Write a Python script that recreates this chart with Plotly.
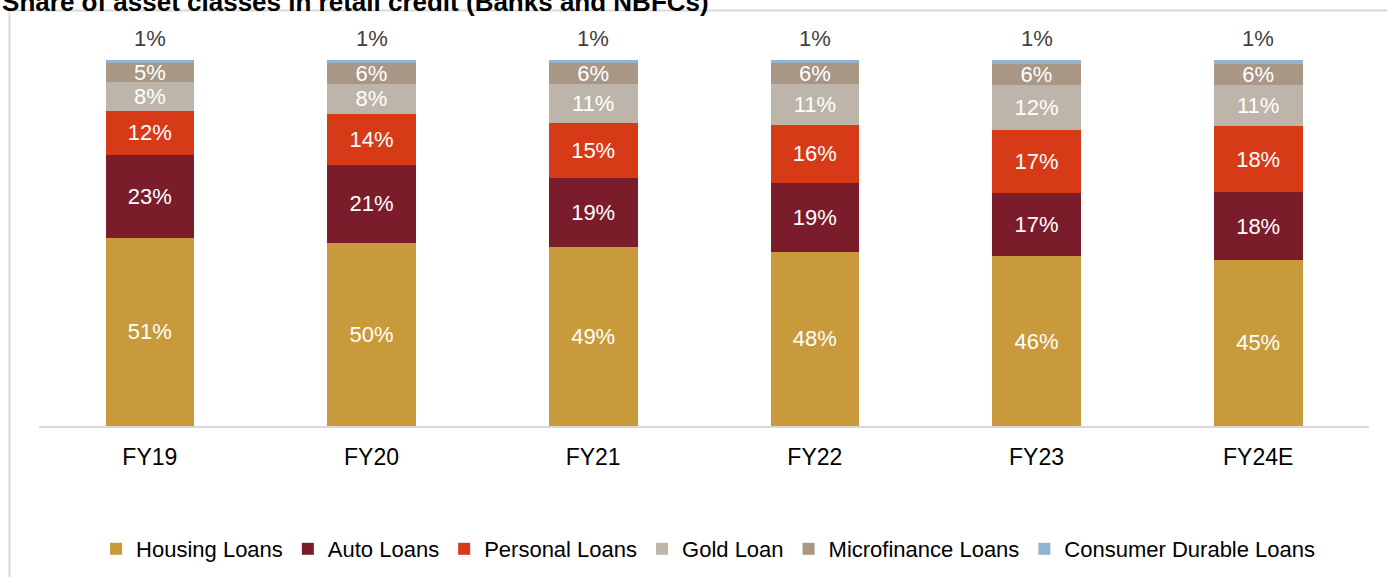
import plotly.graph_objects as go

categories = ["FY19", "FY20", "FY21", "FY22", "FY23", "FY24E"]
housing = [51.4, 50.0, 49.0, 47.6, 46.3, 45.4]
auto = [22.7, 21.3, 18.6, 18.7, 17.4, 18.4]
personal = [11.8, 13.9, 15.2, 16.0, 17.2, 18.0]
gold = [7.9, 8.2, 10.6, 11.1, 12.3, 11.2]
microfinance = [5.2, 5.6, 5.6, 5.6, 5.7, 5.8]
consumer = [1.0, 1.0, 1.0, 1.0, 1.0, 1.0]

series = [
    ("Housing Loans", housing, "#C99A3B"),
    ("Auto Loans", auto, "#7B1C2B"),
    ("Personal Loans", personal, "#D63A17"),
    ("Gold Loan", gold, "#BDB5A9"),
    ("Microfinance Loans", microfinance, "#A89785"),
    ("Consumer Durable Loans", consumer, "#93B3CF"),
]

FONT = "Liberation Sans, Arial, sans-serif"

fig = go.Figure()
for name, vals, color in series:
    is_top = name == "Consumer Durable Loans"
    fig.add_trace(go.Bar(
        name=name,
        x=categories,
        y=vals,
        marker=dict(color=color, line=dict(width=0)),
        texttemplate=None if is_top else "%{y:.0f}%",
        textposition="none" if is_top else "inside",
        insidetextanchor="middle",
        constraintext="none",
        textangle=0,
        insidetextfont=dict(family=FONT, size=22, color="white"),
        hoverinfo="skip",
    ))

totals = [h + a + p + g + m + c for h, a, p, g, m, c in zip(housing, auto, personal, gold, microfinance, consumer)]
annotations = []
for cat, tot, c in zip(categories, totals, consumer):
    annotations.append(dict(
        x=cat, y=tot, xref="x", yref="y",
        text=f"{c:.0f}%", showarrow=False,
        yanchor="bottom", yshift=7,
        font=dict(family=FONT, size=22, color="#404040"),
    ))

fig.update_layout(
    width=1387, height=577,
    barmode="stack",
    bargap=0.6,
    plot_bgcolor="white",
    paper_bgcolor="white",
    margin=dict(l=39, r=18, t=59, b=151),
    font=dict(family=FONT, color="black"),
    title=dict(
        text="<b>Share of asset classes in retail credit (Banks and NBFCs)</b>",
        font=dict(family=FONT, size=26, color="black"),
        xref="container", yref="container",
        x=0.0015, xanchor="left",
        y=0.997, yanchor="middle",
        pad=dict(t=0, b=0, l=0, r=0),
    ),
    xaxis=dict(
        showline=True, linecolor="#D9D9D9", linewidth=2,
        ticks="", showgrid=False, zeroline=False,
        tickfont=dict(family=FONT, size=23, color="black"),
        ticklabelstandoff=9,
    ),
    yaxis=dict(
        range=[0, 100.2], showgrid=False, zeroline=False,
        showticklabels=False, showline=False, ticks="",
    ),
    legend=dict(
        orientation="h",
        xref="container", yref="container",
        x=0.5105, xanchor="center",
        y=1 - 549 / 577, yanchor="middle",
        font=dict(family=FONT, size=22, color="black"),
        itemwidth=30,
        traceorder="normal",
        bgcolor="rgba(0,0,0,0)",
    ),
    annotations=annotations,
    shapes=[dict(
        type="rect", xref="paper", yref="paper",
        x0=(9.5 - 39) / 1330, x1=1.03,
        y0=-0.5, y1=1 + (59 - 10.5) / 367,
        line=dict(color="#D9D9D9", width=2),
        fillcolor="rgba(0,0,0,0)", layer="below",
    )],
    showlegend=True,
)

fig.write_html("out.html")
